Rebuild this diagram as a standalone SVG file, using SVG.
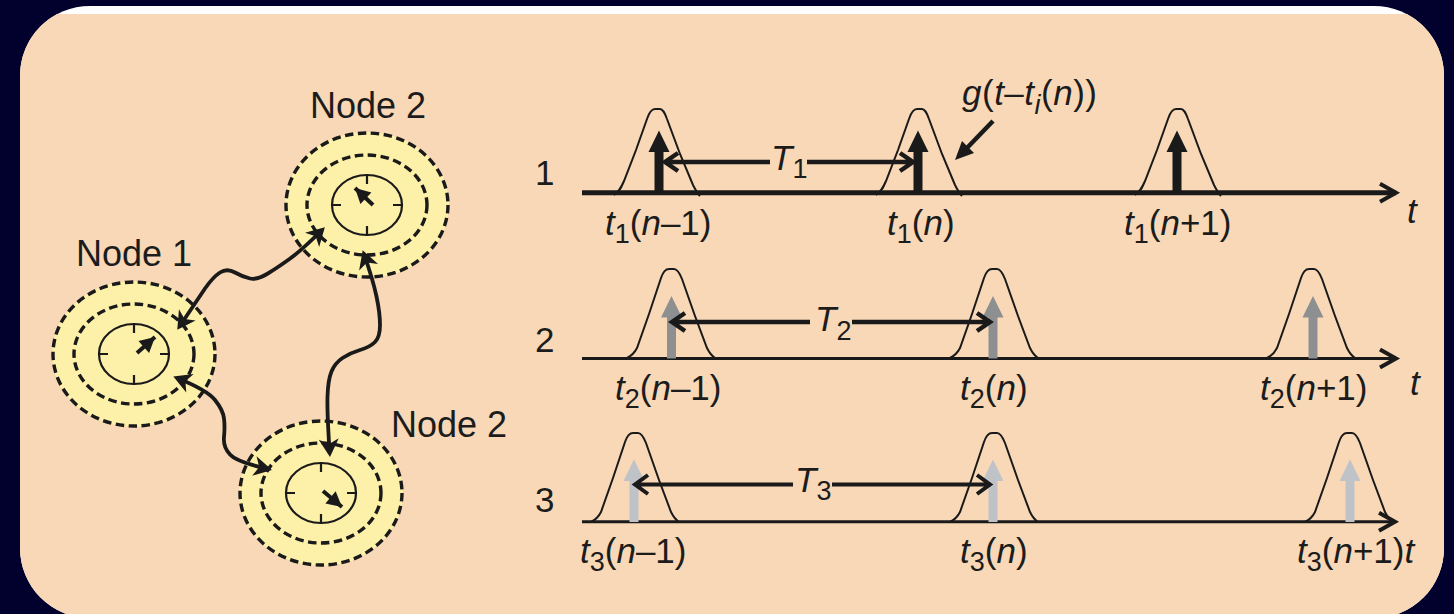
<svg xmlns="http://www.w3.org/2000/svg" width="1454" height="614" viewBox="0 0 1454 614">
<style>
text{font-family:"Liberation Sans",Arial,sans-serif;fill:#1c1c1c;font-size:35px}
.n{font-size:36px}
.i{font-style:italic}
.s{font-size:27px}
.ring{fill:none;stroke:#1a1a1a;stroke-width:3.4;stroke-dasharray:8.500 4.500}
.dial{fill:none;stroke:#1a1a1a;stroke-width:2.2}
.needle{stroke:#1a1a1a;stroke-width:4;fill:none}
.wave{fill:none;stroke:#1a1a1a;stroke-width:3.8;marker-start:url(#barb);marker-end:url(#barb)}
.axis{stroke:#1a1a1a;stroke-width:3;fill:none;marker-end:url(#axhead)}
.span{stroke:#1a1a1a;stroke-width:4.500;fill:none}
.pulse{fill:none;stroke:#1a1a1a;stroke-width:2}
</style>
<defs>
<marker id="barb" markerUnits="userSpaceOnUse" markerWidth="28" markerHeight="28" refX="18" refY="13" orient="auto-start-reverse" viewBox="0 0 28 26"><path d="M22 13L4 3L9 13L4 23Z" fill="#1a1a1a"/></marker>
<marker id="axhead" markerUnits="userSpaceOnUse" markerWidth="26" markerHeight="26" refX="17" refY="13" orient="auto" viewBox="0 0 26 26"><path d="M1 4L17 13L1 22" fill="none" stroke="#1a1a1a" stroke-width="4"/></marker>
<marker id="needlehead" markerUnits="userSpaceOnUse" markerWidth="20" markerHeight="20" refX="16" refY="10" orient="auto" viewBox="0 0 20 20"><path d="M16 10L1 2L1 18Z" fill="#1a1a1a"/></marker>
<g id="rings">
<ellipse rx="82" ry="73" fill="#fdf0a8"/>
<ellipse class="ring" rx="81" ry="72"/>
<ellipse class="ring" rx="60" ry="50"/>
<ellipse class="dial" rx="35" ry="30"/>
<path class="dial" d="M0-30V-21M0 30V21M-35 0H-26M35 0H26"/>
</g>
<path id="pulseA" class="pulse" d="M-43 2C-38-1-36-5-33-12L-21-43L-10-74C-8-80-5-84-2-84H3C5-84 8-80 10-74L23-39L36-8C38-4 40 0 43 3"/>
<path id="pulseB" class="pulse" d="M-44 0C-40-2-37-4-34-10L-22-44L-10-80C-8-86-5-89-2-89H3C6-89 9-84 11-79L24-42L36-10C38-6 41-2 44 0"/>
<path id="arrow" d="M-4.500 0V-41H-10.500L0-62.500L10.500-41H4.500V0Z"/>
</defs>
<rect width="1454" height="614" fill="#02002c"/>
<rect x="20" y="6" width="1424" height="612" rx="70" fill="#ffffff"/>
<path d="M57 14H1407A70 70 0 0 1 1444 76V548A70 70 0 0 1 1374 618H90A70 70 0 0 1 20 548V76A70 70 0 0 1 57 14Z" fill="#f8d8b6"/>

<g id="node1">
<use href="#rings" x="134" y="354"/>
<path class="needle" marker-end="url(#needlehead)" d="M137 353L155 337"/>
<text class="n" x="76" y="266">Node 1</text>
</g>
<g id="node2">
<use href="#rings" x="367" y="205"/>
<path class="needle" marker-end="url(#needlehead)" d="M373 205L355 188"/>
<text class="n" x="310" y="118">Node 2</text>
</g>
<g id="node3">
<use href="#rings" x="321" y="493"/>
<path class="needle" marker-end="url(#needlehead)" d="M323 491L342 507"/>
<text class="n" x="391" y="437">Node 2</text>
</g>

<g id="connectors">
<path class="wave" d="M179.500 326.500L205 288.500Q213 277 220 272.500Q227 268 235 272.500Q243 277 250 278.500Q257 280 267 274Q277 268 289.500 259Q302 250 322 230"/>
<path class="wave" d="M364 254Q373 280 376.500 296.500Q380 313 380 325Q380 337 375 342Q370 347 360 350Q350 353 342.500 358Q335 363 331.500 371.500Q328 380 327.500 396.500Q327 413 329.700 453"/>
<path class="wave" d="M177 378Q207 390 215 400Q223 410 224 418.500Q225 427 224 437Q223 447 230 454.500Q237 462 268 469"/>
</g>

<g id="timeline1">
<text x="535" y="185">1</text>
<use href="#pulseA" x="657" y="193"/><use href="#pulseA" x="919" y="193"/><use href="#pulseA" x="1178" y="193"/>
<path d="M582 192.700H1396" class="axis" style="stroke-width:5"/>
<g fill="#1a1a1a"><use href="#arrow" x="659" y="193"/><use href="#arrow" x="918" y="193"/><use href="#arrow" x="1177" y="193"/></g>
<path class="span" d="M678 153L665 162L678 171M665 162H770M807 162H913M900 153L913 162L900 171"/>
<text class="i" x="771" y="170">T<tspan class="s" dy="8" font-style="normal">1</tspan></text>
<text x="605" y="235"><tspan class="i">t</tspan><tspan class="s" dy="8">1</tspan><tspan dy="-8">(</tspan><tspan class="i">n</tspan>–1)</text>
<text x="887" y="235"><tspan class="i">t</tspan><tspan class="s" dy="8">1</tspan><tspan dy="-8">(</tspan><tspan class="i">n</tspan>)</text>
<text x="1124" y="235"><tspan class="i">t</tspan><tspan class="s" dy="8">1</tspan><tspan dy="-8">(</tspan><tspan class="i">n</tspan>+1)</text>
<text class="i" x="1407" y="223">t</text>
<text x="962" y="105" letter-spacing="0.500"><tspan class="i">g</tspan>(<tspan class="i">t</tspan>–<tspan class="i">t</tspan><tspan class="s i" dy="9">i</tspan><tspan dy="-9">(</tspan><tspan class="i">n</tspan>))</text>
<path d="M993 121L966 149" stroke="#1a1a1a" stroke-width="4.500" fill="none"/>
<path d="M955 160L962 141L974 153Z" fill="#1a1a1a"/>
</g>

<g id="timeline2">
<text x="535" y="352">2</text>
<use href="#pulseB" x="671" y="358"/><use href="#pulseB" x="994" y="358"/><use href="#pulseB" x="1311" y="358"/>
<path d="M582 358.500H1396" class="axis"/>
<g fill="#8d8f91"><use href="#arrow" x="671.500" y="358.500"/><use href="#arrow" x="993" y="358.500"/><use href="#arrow" x="1313" y="358.500"/></g>
<path class="span" d="M685 313L672 322L685 331M672 322H810M852 322H990M977 313L990 322L977 331"/>
<text class="i" x="815" y="331">T<tspan class="s" dy="9" font-style="normal">2</tspan></text>
<text x="615" y="400"><tspan class="i">t</tspan><tspan class="s" dy="8">2</tspan><tspan dy="-8">(</tspan><tspan class="i">n</tspan>–1)</text>
<text x="960" y="400"><tspan class="i">t</tspan><tspan class="s" dy="8">2</tspan><tspan dy="-8">(</tspan><tspan class="i">n</tspan>)</text>
<text x="1260" y="400"><tspan class="i">t</tspan><tspan class="s" dy="8">2</tspan><tspan dy="-8">(</tspan><tspan class="i">n</tspan>+1)</text>
<text class="i" x="1410" y="395">t</text>
</g>

<g id="timeline3">
<text x="535" y="512">3</text>
<use href="#pulseB" x="635" y="522"/><use href="#pulseB" x="994" y="522"/><use href="#pulseB" x="1349" y="522"/>
<path d="M582 521.700H1395" class="axis"/>
<g fill="#bfc3c8"><use href="#arrow" x="634" y="522"/><use href="#arrow" x="993" y="522"/><use href="#arrow" x="1350" y="522"/></g>
<path class="span" style="stroke-width:4" d="M648 475L635 484.500L648 494M635 484.500H793M832 484.500H990M977 475L990 484.500L977 494"/>
<text class="i" x="795" y="492">T<tspan class="s" dy="8" font-style="normal">3</tspan></text>
<text x="580" y="563"><tspan class="i">t</tspan><tspan class="s" dy="8">3</tspan><tspan dy="-8">(</tspan><tspan class="i">n</tspan>–1)</text>
<text x="960" y="563"><tspan class="i">t</tspan><tspan class="s" dy="8">3</tspan><tspan dy="-8">(</tspan><tspan class="i">n</tspan>)</text>
<text x="1297" y="563"><tspan class="i">t</tspan><tspan class="s" dy="8">3</tspan><tspan dy="-8">(</tspan><tspan class="i">n</tspan>+1)<tspan class="i">t</tspan></text>
</g>
</svg>
